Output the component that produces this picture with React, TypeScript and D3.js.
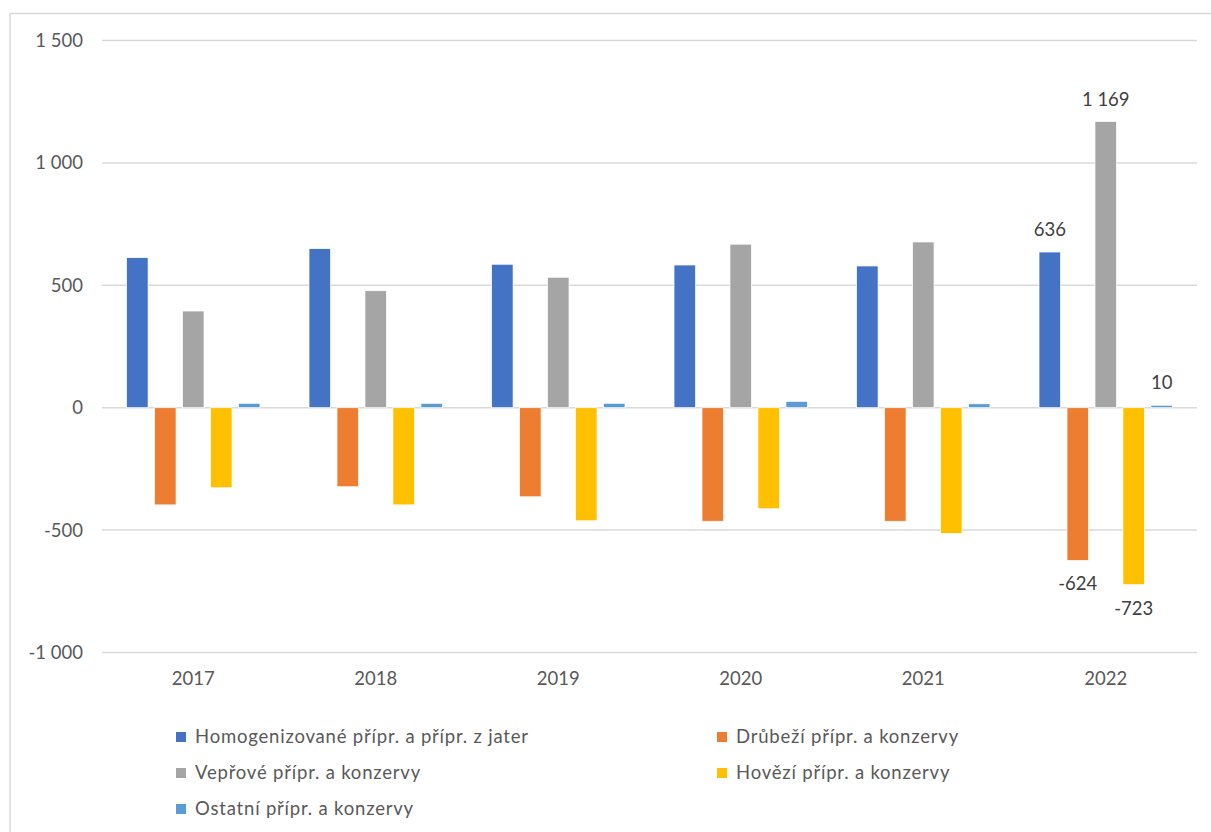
import React from "react";
import * as d3 from "d3";

const years = ["2017", "2018", "2019", "2020", "2021", "2022"];
const seriesNames = [
  "Homogenizované přípr. a přípr. z jater",
  "Drůbeží přípr. a konzervy",
  "Vepřové přípr. a konzervy",
  "Hovězí přípr. a konzervy",
  "Ostatní přípr. a konzervy",
];
const seriesColors = ["#4472C4", "#ED7D31", "#A5A5A5", "#FFC000", "#5B9BD5"];
const homogenizovane = [613, 650, 586, 583, 579, 636];
const drubezi = [-397, -323, -364, -464, -464, -624];
const veprove = [395, 478, 533, 668, 677, 1169];
const hovezi = [-327, -397, -462, -413, -514, -723];
const ostatni = [18, 18, 18, 26, 16, 10];
const seriesValues = [homogenizovane, drubezi, veprove, hovezi, ostatni];
const yTicks = [-1000, -500, 0, 500, 1000, 1500];
// labelled points: [seriesIndex, yearIndex]
const labelled = [
  [0, 5],
  [1, 5],
  [2, 5],
  [3, 5],
  [4, 5],
];

const W = 1211;
const H = 832;
const FONT = "Lato, 'Noto Sans', sans-serif";

const fmt = (v: number) => {
  const s = Math.abs(v).toString();
  const withSpace = s.replace(/\B(?=(\d{3})+(?!\d))/g, " ");
  return (v < 0 ? "-" : "") + withSpace;
};

export default function App() {
  const x0 = d3.scaleBand<string>().domain(years).range([102, 1197]).padding(0);
  const inner = d3
    .scaleBand<number>()
    .domain(d3.range(seriesNames.length))
    .range([24.5, x0.bandwidth() - 24.5])
    .paddingInner(0.228)
    .paddingOuter(0);
  const y = d3.scaleLinear().domain([-1000, 1500]).range([652.5, 40.5]);

  return (
    <svg
      width={W}
      height={H}
      style={{ position: "absolute", left: 0, top: 0, background: "#fff" }}
      fontFamily={FONT}
    >
      <rect x={0} y={0} width={W} height={H} fill="#fff" />
      <rect x={10} y={13.5} width={W + 20} height={H + 20} fill="none" stroke="#D9D9D9" strokeWidth={1.5} />
      {yTicks.map((t) => (
        <g key={t}>
          <line x1={102} x2={1197} y1={y(t)} y2={y(t)} stroke="#D9D9D9" strokeWidth={1.5} />
          <text x={83} y={y(t)} dy="0.35em" textAnchor="end" fontSize={18.5} fill="#595959">
            {fmt(t)}
          </text>
        </g>
      ))}
      {seriesValues.map((vals, si) =>
        vals.map((v, yi) => {
          const bx = (x0(years[yi]) as number) + (inner(si) as number);
          const top = y(Math.max(0, v));
          const bottom = y(Math.min(0, v));
          return (
            <rect
              key={`${si}-${yi}`}
              x={bx}
              y={top}
              width={inner.bandwidth()}
              height={Math.max(0, bottom - top)}
              fill={seriesColors[si]}
              stroke="#fff"
              strokeWidth={0.75}
            />
          );
        })
      )}
      {labelled.map(([si, yi]) => {
        const v = seriesValues[si][yi];
        const cx = (x0(years[yi]) as number) + (inner(si) as number) + inner.bandwidth() / 2;
        const ly = v >= 0 ? y(v) - 22.5 : y(v) + 23.5;
        return (
          <text key={`l-${si}`} x={cx} y={ly} dy="0.35em" textAnchor="middle" fontSize={18.5} fill="#404040">
            {fmt(v)}
          </text>
        );
      })}
      {years.map((yr) => (
        <text
          key={yr}
          x={(x0(yr) as number) + x0.bandwidth() / 2}
          y={679}
          dy="0.35em"
          textAnchor="middle"
          fontSize={18.5}
          fill="#595959"
        >
          {yr}
        </text>
      ))}
      {seriesNames.map((name, i) => {
        const col = i % 2;
        const row = Math.floor(i / 2);
        const mx = col === 0 ? 176 : 717;
        const my = 737 + row * 36;
        return (
          <g key={name}>
            <rect x={mx} y={my - 5} width={10} height={10} fill={seriesColors[i]} />
            <text x={mx + 19} y={my} dy="0.35em" fontSize={18.5} letterSpacing={0.8} fill="#595959">
              {name}
            </text>
          </g>
        );
      })}
    </svg>
  );
}
